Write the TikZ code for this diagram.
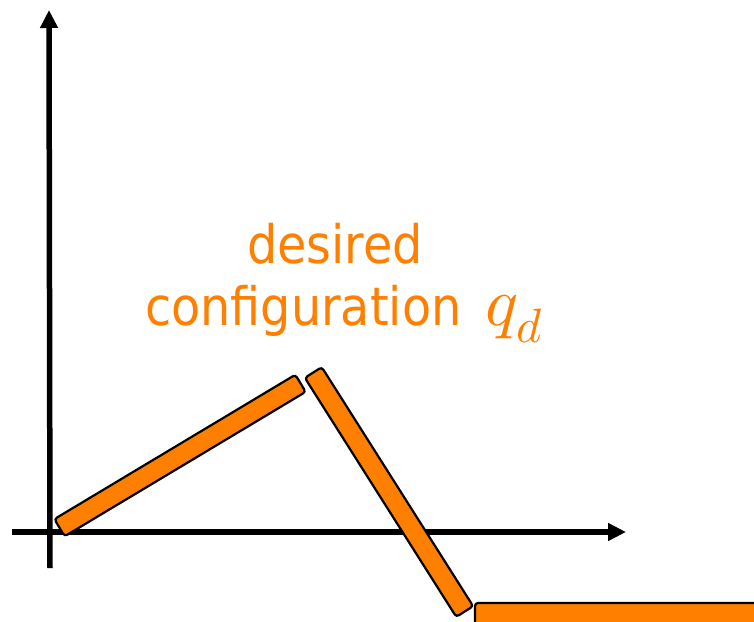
\documentclass[tikz,border=0pt]{standalone}
\usepackage{fontspec}
\usepackage{unicode-math}
\setmathfont{Latin Modern Math}
\newfontfamily\labelfont{DejaVu Sans Condensed}
\usetikzlibrary{arrows.meta}
\definecolor{linkorange}{RGB}{255,128,0}
\begin{document}
\begin{tikzpicture}[x=1pt,y=-1pt,
  axis/.style={line width=5.5pt, -{Triangle[length=18pt,width=17pt]}},
  linkbar/.style={draw=black, fill=linkorange, line width=2.2pt, rounded corners=3pt, inner sep=0pt, minimum height=20pt},
  lbl/.style={text=linkorange, font=\labelfont\fontsize{53}{60}\selectfont, inner sep=0pt}]
\useasboundingbox (0,0) rectangle (754,621);
\clip (0,0) rectangle (754,621);
% axes
\coordinate (ybot) at (50,568);
\coordinate (ytop) at (49,10);
\coordinate (xleft) at (12,532);
\coordinate (xright) at (626,532);
\draw[axis] (ybot) -- (ytop);
\draw[axis] (xleft) -- (xright);
% links
\node[linkbar, minimum width=281pt, rotate=30.93] (link1) at (180,455.5) {};
\node[linkbar, minimum width=283pt, rotate=-57.65] (link2) at (389,492) {};
\draw[linkbar] (475,603) rectangle (800,645);
% label
\node[lbl, anchor=base] (desired) at (335,263) {desired};
\node[lbl, anchor=base west] (config) at (145,325) {configuration\hspace{0.45em}\scalebox{1.3}{$q_d$}};
\end{tikzpicture}
\end{document}
